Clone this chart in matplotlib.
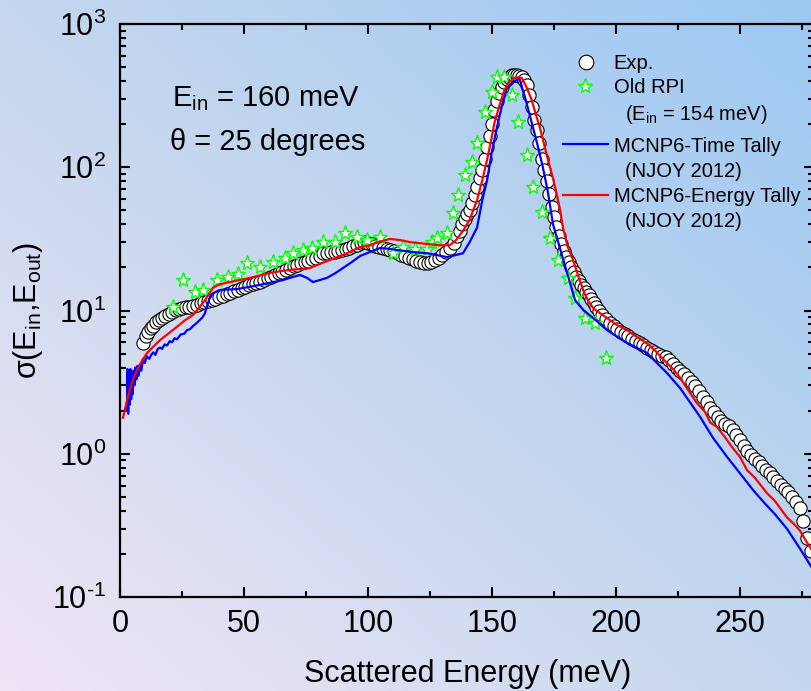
import numpy as np
import matplotlib
matplotlib.use("Agg")
import matplotlib.pyplot as plt
from matplotlib.ticker import MultipleLocator, LogLocator, NullFormatter, FixedLocator, FixedFormatter

plt.rcParams['font.family'] = ['Liberation Sans', 'DejaVu Sans']
plt.rcParams['mathtext.fontset'] = 'custom'
plt.rcParams['mathtext.rm'] = 'Liberation Sans'
plt.rcParams['mathtext.it'] = 'Liberation Sans:italic'
plt.rcParams['mathtext.default'] = 'regular'
plt.rcParams['axes.unicode_minus'] = False

# ---- data ----
exp_e = [9.3, 10.3, 11.3, 12.3, 13.3, 14.5, 15.7, 17.0, 18.3, 19.6, 21.0, 22.4, 23.8, 25.2,
         26.6, 28.0, 29.5, 31.0, 32.5, 34.0, 35.5, 37.0, 38.5, 40.0, 41.5, 43.0, 44.5, 46.0,
         47.5, 49.0, 50.5, 52.0, 53.5, 55.0, 56.5, 58.0, 59.5, 61.0, 62.5, 64.0, 65.5, 67.0,
         68.5, 70.0, 71.5, 73.0, 74.5, 76.0, 77.5, 79.0, 80.5, 82.0, 83.5, 85.0, 86.5, 88.0,
         89.5, 91.0, 92.5, 94.0, 95.5, 97.0, 98.5, 100.0, 101.5, 103.0, 104.5, 106.0, 107.5,
         109.0, 110.5, 112.0, 113.5, 115.0, 116.5, 118.0, 119.5, 121.0, 122.5, 124.0, 125.5,
         127.0, 128.5, 130.0, 131.5, 133.0, 134.5, 136.0, 137.0, 138.0, 139.0, 140.0, 141.0,
         142.0, 143.0, 144.0, 145.0, 146.0, 147.0, 148.0, 149.0, 150.0, 151.0, 152.0, 153.0,
         154.0, 155.0, 156.0, 157.0, 158.0, 159.0, 160.0, 161.0, 162.0, 163.0, 164.0, 165.0,
         166.0, 167.0, 168.0, 169.0, 170.0, 171.0, 172.0, 173.0, 174.0, 175.0, 176.0, 177.0,
         178.0, 179.0, 180.0, 181.0, 182.0, 183.0, 184.0, 185.0, 186.0, 187.0, 188.0, 189.0,
         190.0, 191.0, 192.0, 193.0, 194.5, 196.0, 197.5, 199.0, 200.5, 202.0, 203.5, 205.0,
         206.5, 208.0, 209.5, 211.0, 212.5, 214.0, 215.5, 217.0, 218.5, 220.0, 221.5, 223.0,
         224.5, 226.0, 227.5, 229.0, 230.5, 232.0, 233.5, 235.0, 236.5, 238.0, 239.5, 241.0,
         242.5, 244.0, 245.5, 247.0, 248.5, 250.0, 251.5, 253.0, 254.5, 256.0, 257.5, 259.0,
         260.5, 262.0, 263.5, 265.0, 266.5, 268.0, 269.5, 271.0, 272.5, 274.0, 275.5, 277.0, 278.5]
exp_y = [5.9, 6.6, 7.1, 7.5, 7.8, 8.3, 8.6, 8.9, 9.1, 9.4, 9.8, 10.1, 10.3, 10.4,
         10.5, 10.6, 10.7, 11.0, 11.2, 11.4, 11.6, 11.9, 12.1, 12.4, 12.7, 13.0, 13.3, 13.7,
         14.0, 14.3, 14.7, 15.1, 15.4, 15.6, 15.8, 16.3, 16.8, 17.2, 17.7, 18.3, 18.7, 19.3,
         19.8, 20.3, 20.8, 21.3, 21.8, 22.3, 22.8, 23.3, 24.0, 25.0, 25.2, 25.5, 25.8, 26.0,
         26.3, 26.8, 27.5, 28.2, 28.8, 29.5, 30.0, 29.8, 29.2, 28.3, 27.7, 27.3, 26.9,
         26.5, 26.0, 25.3, 24.5, 24.0, 23.3, 22.8, 22.2, 21.8, 21.6, 21.6, 21.9,
         22.5, 23.3, 24.3, 25.8, 27.3, 29.8, 33.0, 36.0, 40.0, 43.5, 47.0, 50.0,
         56, 64, 73, 84, 96, 115, 138, 165, 200, 251, 290, 330,
         365, 392, 410, 428, 438, 442, 440, 436, 428, 405, 375, 320,
         262, 215, 182, 148, 115, 95, 80, 65, 53, 45, 38, 33,
         29, 26, 23.5, 21.8, 20.0, 18.5, 17.0, 16.0, 15.0, 14.3, 13.5, 12.8,
         12.0, 11.3, 10.6, 10.0, 9.3, 8.7, 8.2, 7.8, 7.4, 7.1, 6.9, 6.6,
         6.3, 6.1, 5.9, 5.7, 5.5, 5.3, 5.15, 5.0, 4.85, 4.7, 4.5, 4.25,
         4.0, 3.8, 3.6, 3.4, 3.15, 2.95, 2.75, 2.5, 2.3, 2.1, 1.95, 1.8,
         1.7, 1.62, 1.55, 1.47, 1.35, 1.25, 1.13, 1.05, 0.98, 0.92, 0.87, 0.82,
         0.77, 0.73, 0.69, 0.65, 0.61, 0.57, 0.54, 0.50, 0.46, 0.42, 0.34, 0.26, 0.21]

rpi_e = [21.4, 25.4, 30.2, 33.5, 39.1, 43.5, 47.6, 51.2, 56.5, 61.7, 66.5, 69.8, 73.8, 77.4,
         81.9, 86.7, 90.7, 95.6, 99.6, 104.8, 110.0, 114.0, 119.0, 123.8, 125.8, 127.8, 131.8,
         134.3, 136.3, 139.0, 142.0, 144.0, 147.0, 150.0, 152.0, 155.0, 158.0, 160.5, 164.0,
         166.5, 170.0, 173.4, 176.6, 180.6, 183.5, 187.5, 191.5, 196.0]
rpi_y = [10.6, 16.3, 13.5, 13.9, 16.3, 17.1, 18.0, 21.4, 20.1, 21.8, 23.2, 25.1, 26.3, 27.3,
         30.0, 30.0, 34.8, 32.6, 31.0, 32.6, 25.0, 27.7, 27.0, 27.0, 30.0, 32.0, 35.0,
         48, 64, 88, 109, 148, 243, 335, 426, 426, 319, 207, 122,
         73, 49, 32, 22.5, 16.9, 12.2, 8.9, 8.2, 4.65]

time_e = [2.8, 3.0, 3.3, 3.6, 3.9, 4.2, 4.5, 4.8, 5.1, 5.4, 5.8, 6.2, 6.6, 7.0, 7.5, 8.0,
          8.6, 9.3, 10.0, 10.8, 11.8, 12.6, 13.4, 14.3, 15.2, 16.1, 17.0, 18.0, 19.0, 20.0,
          21.0, 22.0, 23.0, 24.5, 26.0, 27.0, 28.2, 29.5, 31.0, 33.1, 34.2, 35.0, 36.0, 37.5,
          40.3, 43.0, 47.2, 52.0, 56.5, 61.0, 65.7, 69.0, 72.6, 75.4, 77.8, 80.5, 83.5, 87.0,
          89.9, 93.5, 96.8, 100.8, 104.8, 108.0, 112.9, 118.0, 123.8, 127.0, 131.8, 135.0,
          138.3, 141.0, 144.0, 146.0, 148.0, 150.0, 152.0, 154.0, 156.0, 158.5, 161.0, 163.5,
          166.5, 168.5, 170.5, 172.5, 174.6, 183.5, 187.0, 191.0, 196.4, 204.0, 212.5, 220.5,
          226.0, 233.9, 239.0, 244.8, 250.0, 255.2, 260.0, 264.0, 268.9, 274.0, 279.0]
time_y = [2.0, 3.9, 1.9, 3.7, 2.2, 3.9, 2.4, 3.6, 2.6, 3.8, 3.0, 4.0, 3.3, 4.1, 3.5, 4.2,
          3.8, 4.6, 4.3, 4.8, 4.6, 4.9, 5.1, 4.9, 5.4, 5.5, 5.4, 5.8, 5.7, 6.1,
          6.0, 6.4, 6.3, 6.8, 6.9, 7.3, 7.4, 7.8, 8.2, 8.9, 9.5, 10.6, 12.0, 13.2,
          13.9, 14.0, 14.1, 14.6, 15.1, 15.7, 16.3, 17.0, 17.7, 16.9, 15.8, 16.3, 16.9, 18.3,
          19.8, 21.8, 24.0, 25.6, 27.3, 27.0, 26.3, 25.6, 25.1, 24.5, 23.6, 24.3,
          25.1, 30, 38, 58, 81, 130, 190, 270, 357, 390, 420, 300,
          190, 140, 100, 68, 40, 11.8, 10.0, 8.8, 7.3, 6.0, 5.05, 3.67,
          2.85, 1.81, 1.3, 0.95, 0.73, 0.56, 0.45, 0.38, 0.30, 0.22, 0.16]

energy_e = [1.2, 3.2, 5.0, 6.9, 9.0, 10.9, 13.5, 16.1, 19.5, 23.0, 26.0, 29.4, 32.0, 34.3,
            36.0, 37.5, 40.0, 44.4, 48.0, 52.4, 56.5, 60.5, 64.5, 68.5, 72.5, 76.6, 80.0,
            84.0, 88.0, 92.0, 96.8, 100.8, 104.0, 108.9, 113.0, 117.0, 121.0, 125.0, 129.0,
            133.0, 135.5, 138.3, 141.0, 144.0, 146.0, 148.0, 150.0, 151.0, 153.0, 155.0,
            157.0, 159.0, 161.0, 162.0, 164.0, 166.0, 167.5, 169.3, 171.0, 172.6, 174.5,
            176.0, 177.5, 178.6, 180.5, 182.7, 185.0, 187.0, 189.0, 191.0, 193.5, 197.0,
            200.0, 204.4, 208.0, 212.5, 216.0, 220.5, 223.0, 225.8, 229.0, 232.6, 236.0,
            238.0, 240.7, 244.0, 247.0, 250.0, 252.8, 256.0, 260.9, 264.0, 268.9, 272.0,
            274.2, 277.0, 280.0]
energy_y = [1.78, 2.49, 3.2, 3.85, 4.5, 5.05, 5.6, 6.2, 6.9, 7.7, 8.5, 9.3, 10.5, 11.8,
            13.2, 14.4, 15.2, 15.8, 16.3, 16.9, 17.6, 18.3, 18.8, 19.2, 19.5, 19.8, 21.0,
            22.3, 23.7, 25.3, 27.7, 28.6, 30.0, 31.6, 31.0, 30.0, 29.5, 29.0, 28.5,
            28.6, 31.0, 36, 43, 59, 80, 112, 165, 204, 270, 345,
            395, 420, 425, 420, 360, 295, 240, 190, 145, 112, 85,
            66, 50, 38, 28, 22.5, 17.0, 13.5, 11.5, 10.3, 9.6, 8.7,
            8.0, 7.3, 6.6, 5.9, 5.2, 4.3, 3.9, 3.4, 2.8, 2.26, 1.95,
            1.65, 1.54, 1.3, 1.1, 0.95, 0.77, 0.68, 0.53, 0.47, 0.36, 0.32,
            0.29, 0.24, 0.2]

ytick_vals = [0.1, 1, 10, 100, 1000]
ytick_labels = ['10$^{\u20101}$', '10$^{0}$', '10$^{1}$', '10$^{2}$', '10$^{3}$']

# ---- figure ----
fig = plt.figure(figsize=(8.11, 6.91), dpi=100)

# gradient background (lavender lower-left -> blue upper-right)
bg = fig.add_axes([0, 0, 1, 1], zorder=-10)
gx, gy = np.meshgrid(np.linspace(0, 1, 300), np.linspace(0, 1, 300))
t = (gx + gy) / 2.0
c0 = np.array([241, 229, 246]) / 255.0
c1 = np.array([197, 215, 238]) / 255.0
c2 = np.array([156, 200, 243]) / 255.0
img = np.zeros((300, 300, 3))
for k in range(3):
    img[..., k] = np.where(t < 0.5, c0[k] + (c1[k] - c0[k]) * t / 0.5,
                           c1[k] + (c2[k] - c1[k]) * (t - 0.5) / 0.5)
bg.imshow(img, origin='lower', extent=[0, 1, 0, 1], aspect='auto')
bg.axis('off')

ax = fig.add_axes([120 / 811, 94 / 691, 694.4 / 811, 573 / 691])
ax.patch.set_alpha(0)

ax.plot(exp_e, exp_y, 'o', ms=9.5, mfc='white', mec='black', mew=0.8, zorder=2)
ax.plot(rpi_e, rpi_y, '*', ms=11, mfc='white', mec='#00ff00', mew=1.0, zorder=3)
ax.plot(time_e, time_y, '-', color='#0000ff', lw=1.6, zorder=4)
ax.plot(energy_e, energy_y, '-', color='#ff0000', lw=1.6, zorder=5)

ax.set_yscale('log')
ax.set_xlim(0, 280)
ax.set_ylim(0.1, 1000)

ax.xaxis.set_major_locator(MultipleLocator(50))
ax.xaxis.set_minor_locator(MultipleLocator(25))
ax.yaxis.set_major_locator(FixedLocator(ytick_vals))
ax.yaxis.set_major_formatter(FixedFormatter(ytick_labels))
ax.yaxis.set_minor_locator(LogLocator(base=10, subs=np.arange(2, 10), numticks=20))
ax.yaxis.set_minor_formatter(NullFormatter())

ax.tick_params(which='both', direction='in', top=True, right=True, width=1.5, labelsize=22)
ax.tick_params(which='major', length=7.5)
ax.tick_params(which='minor', length=4)
ax.tick_params(axis='x', pad=9)
ax.tick_params(axis='y', pad=10)
for s in ax.spines.values():
    s.set_linewidth(1.6)

ax.set_xlabel('Scattered Energy (meV)', fontsize=22)
ax.set_ylabel('σ(E$_{in}$,E$_{out}$)', fontsize=22)
ax.xaxis.set_label_coords(0.5, -0.108)
ax.yaxis.set_label_coords(-0.108, 0.5)

# annotations
ax.text(0.075, 0.857, 'E$_{in}$ = 160 meV', fontsize=21, transform=ax.transAxes, va='baseline')
ax.text(0.072, 0.780, 'θ = 25 degrees', fontsize=21, transform=ax.transAxes, va='baseline')

# legend drawn by hand
lf = 14.5
tr = ax.transAxes
ax.plot([0.671], [0.934], 'o', ms=10.5, mfc='white', mec='black', mew=0.8, transform=tr, clip_on=False)
ax.plot([0.670], [0.892], '*', ms=11, mfc='white', mec='#00ff00', mew=1.0, transform=tr, clip_on=False)
ax.plot([0.638, 0.703], [0.7906, 0.7906], color='#0000ff', lw=1.6, transform=tr, clip_on=False)
ax.plot([0.638, 0.703], [0.7016, 0.7016], color='#ff0000', lw=1.6, transform=tr, clip_on=False)
ax.text(0.711, 0.922, 'Exp.', fontsize=lf, transform=tr, va='baseline')
ax.text(0.711, 0.880, 'Old RPI', fontsize=lf, transform=tr, va='baseline')
ax.text(0.727, 0.8325, '(E$_{in}$ = 154 meV)', fontsize=lf, transform=tr, va='baseline')
ax.text(0.711, 0.7766, 'MCNP6-Time Tally', fontsize=lf, transform=tr, va='baseline')
ax.text(0.727, 0.733, '(NJOY 2012)', fontsize=lf, transform=tr, va='baseline')
ax.text(0.711, 0.6885, 'MCNP6-Energy Tally', fontsize=lf, transform=tr, va='baseline')
ax.text(0.727, 0.6457, '(NJOY 2012)', fontsize=lf, transform=tr, va='baseline')

fig.savefig('out.png', dpi=100)
